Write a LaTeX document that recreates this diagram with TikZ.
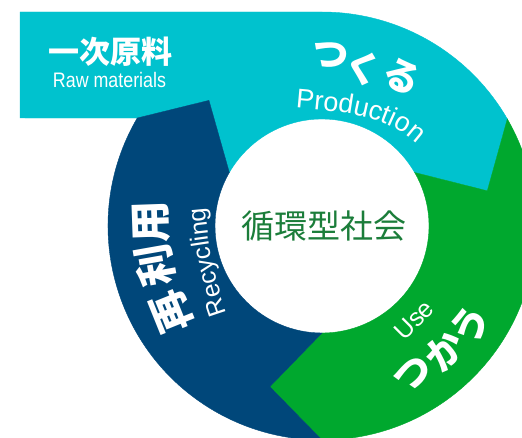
\documentclass[tikz,border=0pt]{standalone}
\usepackage{fontspec}
\newfontfamily\cjk{Noto Sans CJK JP}
\newfontfamily\lat{Liberation Sans}
\newfontfamily\latc[FakeStretch=0.85]{Liberation Sans}
\usetikzlibrary{decorations.text}
\definecolor{ringcyan}{HTML}{00C2CE}
\definecolor{ringnavy}{HTML}{00477A}
\definecolor{ringgreen}{HTML}{00A82E}
\definecolor{textgreen}{HTML}{1B7D3A}
\begin{document}
\begin{tikzpicture}[x=1pt,y=1pt,
  lbl/.style={text=white, inner sep=0pt},
  jb/.style={lbl, font=\cjk\bfseries\fontsize{#1}{#1}\selectfont},
  seg/.style={fill=#1, draw=#1, line width=0.4pt}]
\useasboundingbox (0,0) rectangle (522,437);
\clip (0,0) rectangle (522,437);
\begin{scope}[shift={(322,211)}]
  \path[seg=ringcyan] (-302,108) -- (-302,214) -- (0,214)
    arc[start angle=90,end angle=30,radius=214] -- (12:169) -- (30:107)
    arc[start angle=30,end angle=150,radius=107] -- (132:169) -- (149.7:214) -- cycle;
  \path[seg=ringgreen] (30:214) -- (12:169) -- (30:107)
    arc[start angle=30,end angle=-90,radius=107] -- (-108:169) -- (-90:214)
    arc[start angle=-90,end angle=30,radius=214] -- cycle;
  \path[seg=ringnavy] (-90:214) -- (-108:169) -- (-90:107)
    arc[start angle=-90,end angle=-210,radius=107] -- (132:169) -- (149.7:214)
    arc[start angle=149.7,end angle=270,radius=214] -- cycle;
\end{scope}
% raw materials
\node[jb=31] (raw) at (110,385.5) {一次原料};
\node[lbl, font=\latc\fontsize{21}{21}\selectfont] (rawen) at (109.5,357) {Raw materials};
% centre
\node[inner sep=0pt, text=textgreen, font=\cjk\fontsize{33}{33}\selectfont] (centre) at (323.5,211) {循環型社会};
% production
\node[jb=37, rotate=-12] (tsu1) at (330,382) {つ};
\node[jb=37, rotate=-18] (ku) at (363,369) {く};
\node[jb=37, rotate=-26] (ru) at (402,360) {る};
\path[decorate, decoration={text along path, text color=white, text align=center,
  text={|\lat\fontsize{27}{27}\selectfont|Production}}]
  (294,329.5) .. controls (343,325) and (388,322) .. (418,292);
% use
\node[lbl, rotate=45, font=\lat\fontsize{25}{25}\selectfont] (use) at (414,117) {Use};
\node[jb=38, rotate=32] (tsu2) at (413,62) {つ};
\node[jb=38, rotate=45] (ka) at (445,86) {か};
\node[jb=38, rotate=56] (u) at (470,112) {う};
% recycling
\node[jb=42, rotate=112] (sai) at (172,125) {再};
\node[jb=42, rotate=100] (ri) at (155,171) {利};
\node[jb=42, rotate=92] (you) at (151,215) {用};
\path[decorate, decoration={text along path, text color=white, text align=center,
  text={|\lat\fontsize{25}{25}\selectfont|Recycling}}]
  (228,121) .. controls (214,158) and (208,195) .. (205,233);
\end{tikzpicture}
\end{document}
